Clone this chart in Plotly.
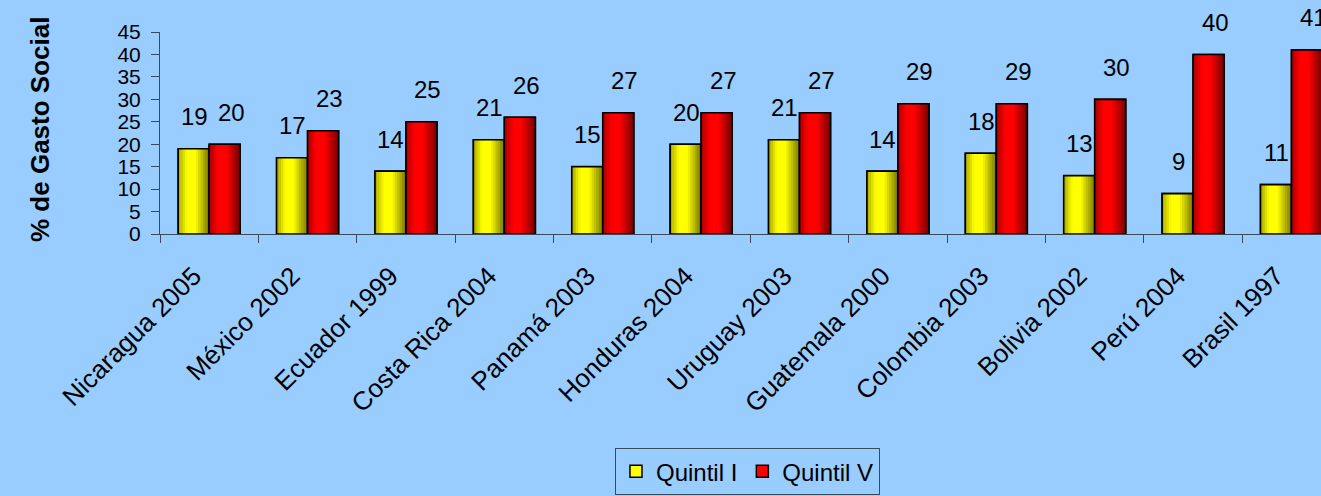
import plotly.graph_objects as go

# data
paises = ["Nicaragua 2005", "México 2002", "Ecuador 1999", "Costa Rica 2004",
          "Panamá 2003", "Honduras 2004", "Uruguay 2003", "Guatemala 2000",
          "Colombia 2003", "Bolivia 2002", "Perú 2004", "Brasil 1997"]
quintil_1 = [19, 17, 14, 21, 15, 20, 21, 14, 18, 13, 9, 11]
quintil_5 = [20, 23, 25, 26, 27, 27, 27, 29, 29, 30, 40, 41]

fnt = "Liberation Sans, Arial, sans-serif"
bg = "#99CCFF"
axcol = "#3a4a5a"
w = 0.315      # width of one bar, in category units
nstrip = 14    # strips used to fake the Excel gradient


def shade(t):
    # brightness across the bar: darker edges, bright plateau left of centre
    if t < 0.28:
        return 0.65 + 0.35 * t / 0.28
    if t < 0.55:
        return 1.0
    return 1.0 - 0.55 * (t - 0.55) / 0.45


fig = go.Figure()
series = [("Quintil I", quintil_1, -w, (255, 255, 0)),
          ("Quintil V", quintil_5, 0.0, (255, 0, 0))]

for name, vals, off, rgb in series:
    # solid bar, carries the legend entry
    fig.add_trace(go.Bar(x=paises, y=vals, name=name, width=w, offset=off,
                         marker=dict(color="rgb(%d,%d,%d)" % rgb, line=dict(color="black", width=1.5))))
    # gradient strips
    sw = w / nstrip
    for k in range(nstrip):
        b = shade((k + 0.5) / nstrip)
        col = "rgb(%d,%d,%d)" % tuple(int(c * b) for c in rgb)
        fig.add_trace(go.Bar(x=paises, y=vals, width=sw * 1.15, offset=off + k * sw,
                             marker=dict(color=col, line=dict(width=0)),
                             showlegend=False, hoverinfo="skip"))
    # outline on top
    fig.add_trace(go.Bar(x=paises, y=vals, width=w, offset=off, showlegend=False, hoverinfo="skip",
                         marker=dict(color="rgba(0,0,0,0)", line=dict(color="black", width=1.6))))

# value labels sit well above the bars, as in the Excel original
annots = []
for p, a, b in zip(paises, quintil_1, quintil_5):
    annots.append(dict(x=p, y=a, text=str(a), showarrow=False, xshift=-15, yshift=32,
                       font=dict(size=24, color="black", family=fnt)))
    annots.append(dict(x=p, y=b, text=str(b), showarrow=False, xshift=22, yshift=32,
                       font=dict(size=24, color="black", family=fnt)))

annots.append(dict(xref="paper", yref="paper", x=-0.118, y=0.515, text="<b>% de Gasto Social</b>",
                   textangle=-90, showarrow=False, font=dict(size=26, color="black", family=fnt)))

fig.update_layout(
    width=1321, height=496,
    margin=dict(l=160, r=0, t=32, b=260),
    paper_bgcolor=bg, plot_bgcolor=bg,
    barmode="overlay",
    font=dict(family=fnt, size=24, color="black"),
    annotations=annots,
    showlegend=True,
    legend=dict(orientation="h", x=0.506, xanchor="center", y=-1.06, yanchor="top",
                bgcolor=bg, bordercolor=axcol, borderwidth=1,
                font=dict(size=24, family=fnt), itemwidth=30, traceorder="normal"),
)
# trailing nbsp pushes the slanted labels down-left, like Excel places them
fig.update_xaxes(range=[-0.5, 11.3], showline=True, linecolor=axcol, linewidth=1,
                 ticks="outside", tickson="boundaries", ticklen=8, tickcolor=axcol,
                 tickmode="array", tickvals=paises, ticktext=[p + "\u00a0\u00a0\u00a0" for p in paises],
                 tickangle=-45, tickfont=dict(size=26, family=fnt), showgrid=False)
fig.update_yaxes(range=[0, 45], dtick=5, showline=True, linecolor=axcol, linewidth=1,
                 ticks="outside", ticklen=8, tickcolor=axcol, showgrid=False, zeroline=False,
                 ticklabelstandoff=6, tickfont=dict(size=21, family=fnt))

fig.write_html("out.html", config={"displayModeBar": False},
               post_script="document.body.style.margin='0';")
